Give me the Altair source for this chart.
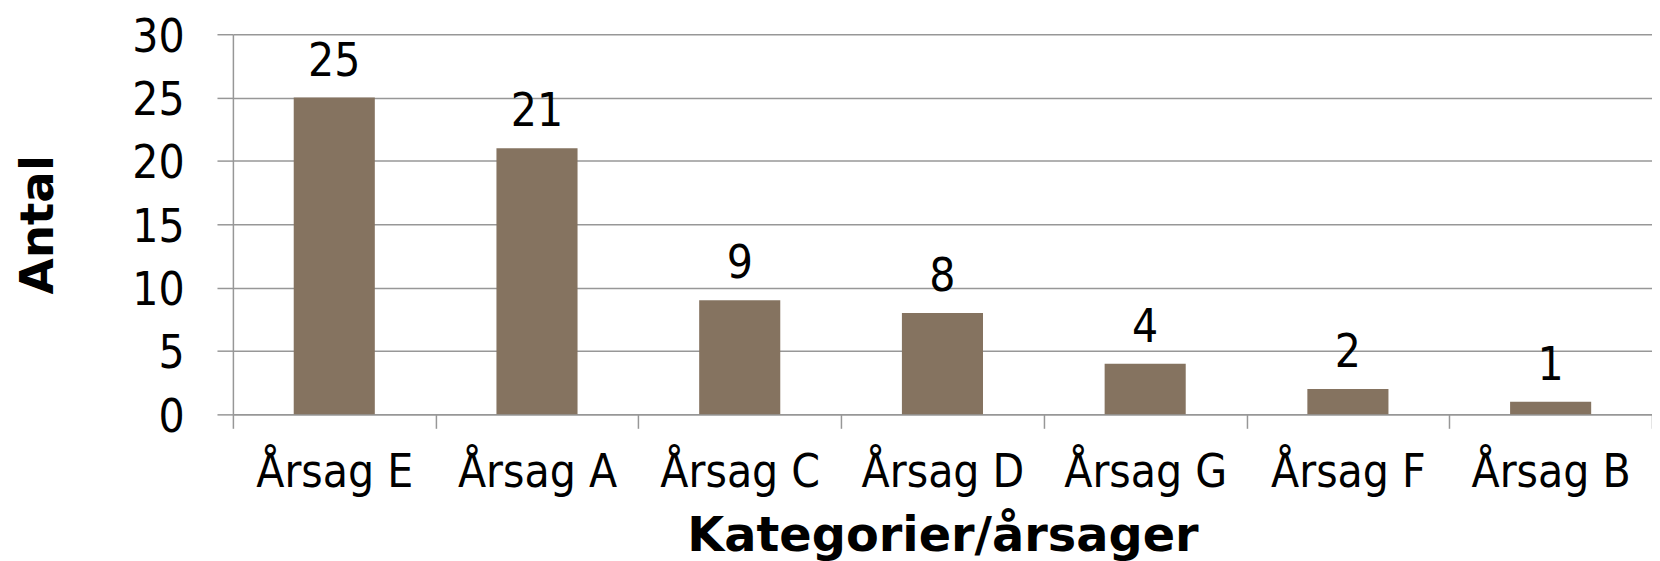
import altair as alt
import pandas as pd

categories = ["Årsag E", "Årsag A", "Årsag C", "Årsag D", "Årsag G", "Årsag F", "Årsag B"]
values = [25, 21, 9, 8, 4, 2, 1]
y_ticks = [0, 5, 10, 15, 20, 25, 30]

df = pd.DataFrame({"Kategori": categories, "Antal": values})

LABEL_FONT = "'DejaVu Sans Condensed', 'DejaVu Sans', sans-serif"
TITLE_FONT = "DejaVu Sans"
GRID = "#979797"
BAR = "#857360"

x = alt.X(
    "Kategori:N",
    sort=categories,
    scale=alt.Scale(paddingInner=0, paddingOuter=0),
    axis=alt.Axis(
        title="Kategorier/årsager",
        titleFont=TITLE_FONT,
        titleFontSize=48,
        titleFontWeight="bold",
        titleColor="black",
        titlePadding=18,
        labelFont=LABEL_FONT,
        labelFontSize=46,
        labelColor="black",
        labelAngle=0,
        labelPadding=22,
        tickBand="extent",
        tickSize=14,
        tickColor=GRID,
        tickWidth=1.5,
        domainColor=GRID,
        domainWidth=1.5,
        grid=False,
    ),
)

y = alt.Y(
    "Antal:Q",
    scale=alt.Scale(domain=[0, 30], nice=False),
    axis=alt.Axis(
        title="Antal",
        titleFont=TITLE_FONT,
        titleFontSize=47,
        titleFontWeight="bold",
        titleColor="black",
        titlePadding=70,
        values=y_ticks,
        labelFont=LABEL_FONT,
        labelFontSize=46,
        labelColor="black",
        labelPadding=33,
        labelOffset=3,
        tickSize=16,
        tickColor=GRID,
        tickWidth=1.5,
        domainColor=GRID,
        domainWidth=1.5,
        grid=True,
        gridColor=GRID,
        gridWidth=1.5,
    ),
)

bars = alt.Chart(df).mark_bar(color=BAR, width=alt.RelativeBandSize(0.4)).encode(x=x, y=y)

labels = alt.Chart(df).mark_text(
    font=LABEL_FONT,
    fontSize=46,
    color="black",
    baseline="alphabetic",
    align="center",
    dy=-22,
).encode(
    x=alt.X("Kategori:N", sort=categories),
    y=alt.Y("Antal:Q"),
    text=alt.Text("Antal:Q"),
)

chart = (
    alt.layer(bars, labels)
    .properties(
        width=1426,
        height=382,
        autosize=alt.AutoSizeParams(type="none"),
        padding={"left": 226, "top": 25, "right": 0, "bottom": 146},
    )
    .configure_view(stroke=None)
)

chart.save("out.html", embed_options={"renderer": "svg", "actions": False})
